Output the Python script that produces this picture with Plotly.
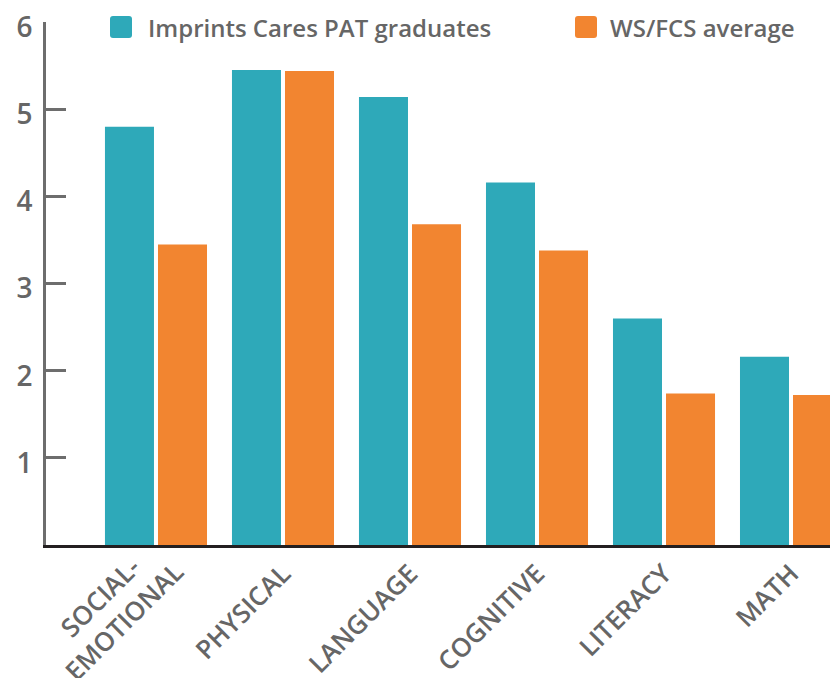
import plotly.graph_objects as go

categories = ["SOCIAL-EMOTIONAL", "PHYSICAL", "LANGUAGE", "COGNITIVE", "LITERACY", "MATH"]
tick_labels = ["", "PHYSICAL", "LANGUAGE", "COGNITIVE", "LITERACY", "MATH"]
first_label = "SOCIAL-<br>EMOTIONAL"
imprints = [4.80, 5.45, 5.14, 4.16, 2.60, 2.16]
wsfcs = [3.45, 5.44, 3.68, 3.38, 1.74, 1.72]
series_names = ["Imprints Cares PAT graduates", "WS/FCS average"]
colors = ["#2EA9B9", "#F28530"]
ytick_vals = [1, 2, 3, 4, 5, 6]

W, H = 830, 678
L, R, T, B = 46, 0, 22, 133
pw, ph = W - L - R, H - T - B


def px(x):
    return (x - L) / pw


def py(y):
    return (H - B - y) / ph


fig = go.Figure()
for name, vals, col in zip(series_names, [imprints, wsfcs], colors):
    fig.add_trace(go.Bar(x=categories, y=vals, name=name, marker_color=col,
                         marker_line_width=0, showlegend=False))

# legend drawn manually (large rounded squares)
shapes = []
annotations = []
leg_marker_x = [121, 586]
leg_text_x = [146, 608]
for name, col, mx, tx in zip(series_names, colors, leg_marker_x, leg_text_x):
    r, s = 3, 11
    path = (f"M {-s + r},{-s} L {s - r},{-s} Q {s},{-s} {s},{-s + r} L {s},{s - r} Q {s},{s} {s - r},{s} "
            f"L {-s + r},{s} Q {-s},{s} {-s},{s - r} L {-s},{-s + r} Q {-s},{-s} {-s + r},{-s} Z")
    shapes.append(dict(type="path", xref="paper", yref="paper", xsizemode="pixel", ysizemode="pixel",
                       xanchor=px(mx), yanchor=py(27), path=path, fillcolor=col, line_width=0))
    annotations.append(dict(x=px(tx), y=py(27), xref="paper", yref="paper", text=name, showarrow=False,
                            xanchor="left", yanchor="middle",
                            font=dict(size=24, color="#666666", weight=600)))

# two-line category label (centered lines, as in the original)
annotations.append(dict(x=categories[0], xref="x", xshift=-44, y=py(609), yref="paper",
                        text=first_label, textangle=-45, showarrow=False, align="center",
                        xanchor="center", yanchor="middle",
                        font=dict(size=26, color="#666666", weight=600)))

fig.update_layout(
    width=W, height=H,
    margin=dict(l=L, r=R, t=T, b=B),
    paper_bgcolor="white", plot_bgcolor="white",
    barmode="group", bargap=0.165, bargroupgap=0.0755,
    font=dict(family="Open Sans", color="#666666", weight=600),
    shapes=shapes, annotations=annotations,
)
fig.update_xaxes(
    range=[-0.866, 5.307], tickangle=-45, tickfont=dict(size=26, color="#666666", weight=600),
    tickmode="array", tickvals=categories, ticktext=tick_labels,
    showline=True, linecolor="#231f20", linewidth=3, ticks="", showgrid=False,
    layer="below traces", automargin=False,
)
fig.update_yaxes(
    range=[0, 6.002], tickvals=ytick_vals, ticks="", showgrid=False, zeroline=False,
    showline=True, linecolor="#6d6d6d", linewidth=3, automargin=False,
    tickfont=dict(size=28, color="#666666", weight=600), ticklabelshift=5, ticklabelstandoff=5,
    ticklabeloverflow="allow",
    minor=dict(tickvals=[1, 2, 3, 4, 5], ticks="inside", ticklen=20, tickwidth=3, tickcolor="#6d6d6d"),
)

fig.write_html("out.html", config={"displayModeBar": False},
               post_script="document.body.style.margin='0px';document.body.style.overflow='hidden';")
